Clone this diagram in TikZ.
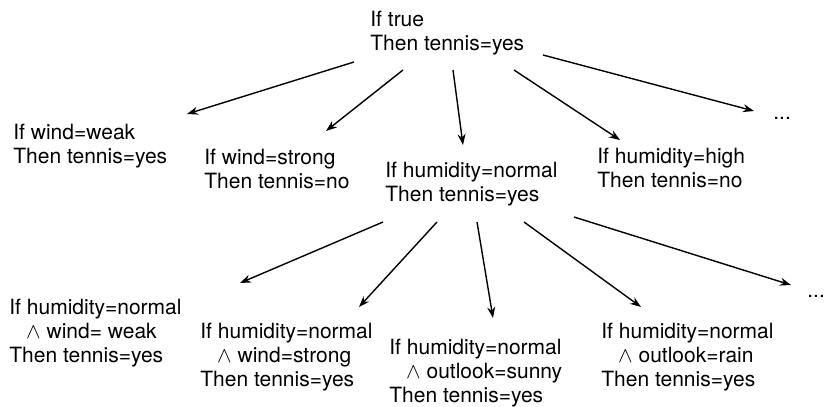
\documentclass[tikz,border=0pt]{standalone}
\usepackage{fontspec}
\setmainfont{TeX Gyre Heros}
\usetikzlibrary{arrows.meta}
\tikzset{
  rule/.style={anchor=north west,inner sep=0pt,align=left,font=\fontsize{10.5}{12}\selectfont},
  arr/.style={-{Stealth[length=5.5pt,width=4pt]},line width=.7pt},
}
\newcommand{\andind}{\hspace*{0.8em}$\wedge$}

\begin{document}
\begin{tikzpicture}[x=0.5pt,y=-0.5pt]
\useasboundingbox (0,0) rectangle (825,407);
% --- top rule ---
\node[rule] (root) at (370,11) {If true\\Then tennis=yes};
% --- row 1: one condition ---
\node[rule] (wweak)   at (13,124)  {If wind=weak\\Then tennis=yes};
\node[rule] (wstrong) at (204,149) {If wind=strong\\Then tennis=no};
\node[rule] (hnormal) at (385,162) {If humidity=normal\\Then tennis=yes};
\node[rule] (hhigh)   at (597,148) {If humidity=high\\Then tennis=no};
\node[rule] (dotsA)   at (773,117) {...};
\foreach \sx/\sy/\t/\ex/\ey in {-16/51/wweak/174/-10, 33/59/wstrong/122/-18, 83/59/hnormal/78/-17,
    144/59/hhigh/23/-8, 173/44/dotsA/-19/-6}
  \draw[arr] ([shift={(\sx,\sy)}]root.north west) -- ([shift={(\ex,\ey)}]\t.north west);
% --- row 2: specialise humidity=normal ---
\node[rule] (hnwweak)   at (9,299)   {If humidity=normal\\\andind{} wind= weak\\Then tennis=yes};
\node[rule] (hnwstrong) at (200,323) {If humidity=normal\\\andind{} wind=strong\\Then tennis=yes};
\node[rule] (hnsunny)   at (389,339) {If humidity=normal\\\andind{} outlook=sunny\\Then tennis=yes};
\node[rule] (hnrain)    at (601,323) {If humidity=normal\\\andind{} outlook=rain\\Then tennis=yes};
\node[rule] (dotsB)     at (807,295) {...};
\foreach \sx/\sy/\t/\ex/\ey in {-2/60/hnwweak/231/-16, 52/60/hnwstrong/159/-16, 92/60/hnsunny/104/-21,
    139/60/hnrain/40/-16, 189/55/dotsB/-16/-10}
  \draw[arr] ([shift={(\sx,\sy)}]hnormal.north west) -- ([shift={(\ex,\ey)}]\t.north west);
\end{tikzpicture}
\end{document}
